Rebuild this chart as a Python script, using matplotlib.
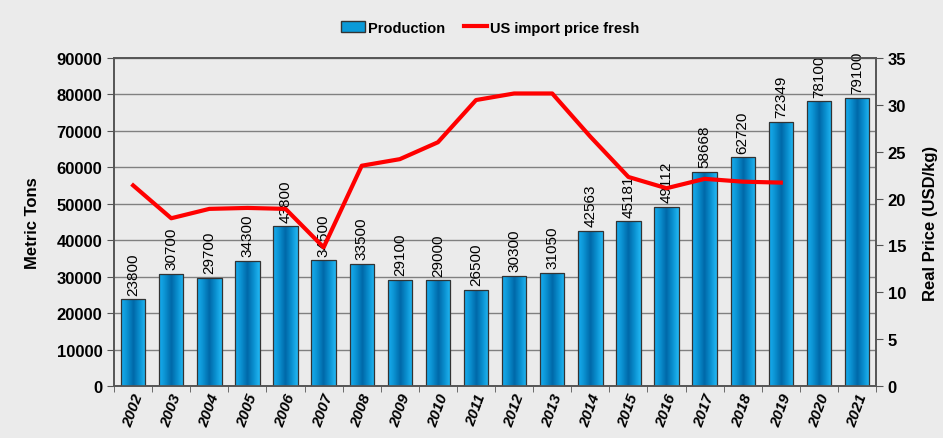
import numpy as np
import matplotlib.pyplot as plt
from matplotlib.colors import LinearSegmentedColormap
from matplotlib.lines import Line2D
from matplotlib.patches import Patch

plt.rcParams["font.family"] = ["Liberation Sans", "DejaVu Sans"]

annees = [str(a) for a in range(2002, 2022)]
production = [23800, 30700, 29700, 34300, 43800, 34500, 33500, 29100, 29000, 26500,
              30300, 31050, 42563, 45181, 49112, 58668, 62720, 72349, 78100, 79100]
prix = [21.4, 17.9, 18.9, 19.0, 18.9, 14.8, 23.5, 24.2, 26.0, 30.5,
        31.2, 31.2, 26.6, 22.3, 21.1, 22.1, 21.8, 21.7]

fond = "#ebebeb"
fig = plt.figure(figsize=(9.43, 4.39), dpi=100, facecolor=fond)
ax = fig.add_axes([0.121, 0.118, 0.808, 0.748], facecolor=fond)
ax2 = ax.twinx()

x = np.arange(len(annees))
largeur = 0.64
barres = ax.bar(x, production, width=largeur, color="#0a9ad8", edgecolor="#333333",
                linewidth=0.9, zorder=3)

# dégradé horizontal dans chaque barre
cmap = LinearSegmentedColormap.from_list("bleu", ["#18aef0", "#0a90d0", "#0068a8", "#0a90d0", "#22b8f4"])
grad = np.linspace(0, 1, 64).reshape(1, -1)
for b in barres:
    x0, y0 = b.get_x(), b.get_y()
    im = ax.imshow(grad, cmap=cmap, aspect="auto", zorder=3.5,
                   extent=[x0, x0 + b.get_width(), y0, y0 + b.get_height()])
    im.set_clip_path(b)
    b.set_facecolor("none")
    b.set_zorder(4)

for xi, v in zip(x, production):
    ax.text(xi, v + 1300, str(v), rotation=90, ha="center", va="bottom",
            fontsize=11, color="black", zorder=6)

ax.set_xlim(-0.5, len(annees) - 0.5)
ax.set_ylim(0, 90000)
ax.set_yticks(np.arange(0, 90001, 10000))
ax.grid(axis="y", color="#808080", linewidth=1, zorder=0)
ax.set_xticks(x)
ax.set_xticklabels(annees, rotation=70, fontsize=11, fontweight="bold", style="italic")
ax.tick_params(axis="x", length=0, pad=4)
ax.set_xticks(np.arange(-0.5, len(annees), 1), minor=True)
ax.tick_params(axis="x", which="minor", length=4, color="#555555")
ax.tick_params(axis="y", labelsize=12, length=5, color="#555555")
for lab in ax.get_yticklabels():
    lab.set_fontweight("bold")
ax.set_ylabel("Metric Tons", fontsize=12, fontweight="bold", labelpad=12)

ax2.plot(np.arange(len(prix)), prix, color="#ff0000", linewidth=3, zorder=5)
ax2.set_ylim(0, 35)
ax2.set_yticks(np.arange(0, 36, 5))
ax2.tick_params(axis="y", labelsize=12, length=5, color="#555555")
for lab in ax2.get_yticklabels():
    lab.set_fontweight("bold")
ax2.set_ylabel("Real Price (USD/kg)", fontsize=12, fontweight="bold", labelpad=12)

for a in (ax, ax2):
    for s in a.spines.values():
        s.set_color("#555555")
        s.set_linewidth(1.2)

poignees = [Patch(facecolor="#0a9ad8", edgecolor="#333333"),
            Line2D([0], [0], color="#ff0000", linewidth=3)]
fig.legend(poignees, ["Production", "US import price fresh"], loc="center",
           bbox_to_anchor=(0.52, 0.935), ncol=2, frameon=False,
           prop={"weight": "bold", "size": 10.5}, handlelength=1.6,
           handletextpad=0.2, columnspacing=1.3)

fig.savefig("out.png", dpi=100, facecolor=fond)
